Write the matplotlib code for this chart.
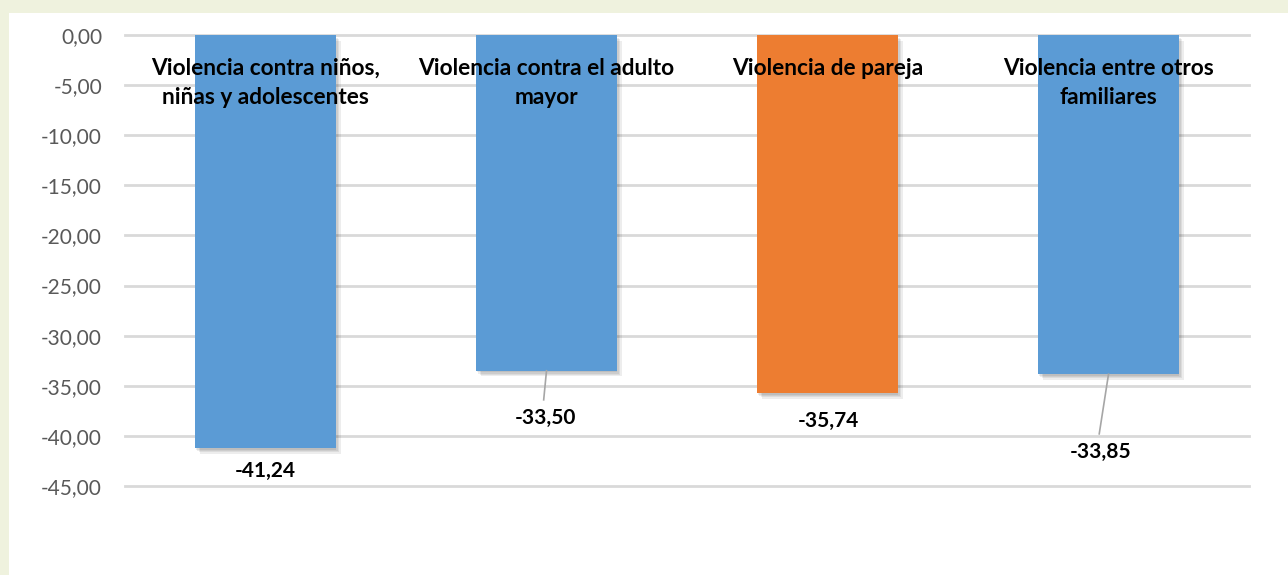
import matplotlib.pyplot as plt
import matplotlib.patheffects as pe
import numpy as np

# data
categories = ["Violencia contra niños,\nniñas y adolescentes",
              "Violencia contra el adulto\nmayor",
              "Violencia de pareja",
              "Violencia entre otros\nfamiliares"]
values = [-41.24, -33.50, -35.74, -33.85]
colors = ["#5B9BD5", "#5B9BD5", "#ED7D31", "#5B9BD5"]
yticks = np.arange(0, -50, -5)

# where the value labels sit (data units) and whether they get a leader line
label_pos = [(0.00, -43.5), (0.996, -38.2), (2.004, -38.5), (2.973, -41.6)]
leader = [False, True, False, True]

plt.rcParams["font.family"] = ["Lato", "DejaVu Sans"]

fig = plt.figure(figsize=(12.88, 5.75), dpi=100, facecolor="#EFF2DE")
# white panel
fig.patches.append(plt.Rectangle((9 / 1288, 0), 1, 1 - 13 / 575, transform=fig.transFigure,
                                 facecolor="white", edgecolor="none", zorder=-10))

ax = fig.add_axes([125 / 1288, 1 - 486 / 575, 1124 / 1288, 451 / 575])
ax.set_facecolor("none")

x = np.arange(len(values))
bars = ax.bar(x, values, width=0.5, color=colors, zorder=3)
# soft shadow: a few faint offset copies
shadow = [pe.SimplePatchShadow(offset=(o, -o - 0.5), shadow_rgbFace="black", alpha=0.07)
          for o in (0.5, 1.5, 2.5, 3.5)]
for b in bars:
    b.set_path_effects(shadow + [pe.Normal()])

ax.set_xlim(-0.5, len(values) - 0.5)
ax.set_ylim(-45, 0)
ax.set_yticks(yticks)
ax.set_yticklabels([f"{v:.2f}".replace(".", ",") for v in yticks])
ax.yaxis.grid(True, color="#D9D9D9", linewidth=2)
for gl in ax.get_ygridlines():
    gl.set_clip_on(False)
ax.set_axisbelow(True)
ax.set_xticks([])
ax.tick_params(axis="y", length=0, pad=16.5, labelsize=15, labelcolor="#595959")
for s in ax.spines.values():
    s.set_visible(False)

# category names inside the plot, near the top
for i, name in enumerate(categories):
    ax.text(i, -2.3, name, ha="center", va="top", fontsize=16.3, fontweight="bold",
            color="black", linespacing=1.45, zorder=5)

# value labels
for i, (v, (lx, ly), ld) in enumerate(zip(values, label_pos, leader)):
    ax.text(lx, ly, f"{v:.2f}".replace(".", ","), ha="center", va="center",
            fontsize=15, fontweight="bold", color="black", zorder=5)
    if ld:
        ax.plot([i, lx - 0.006], [v, ly + 1.8], color="#A6A6A6", linewidth=1.2, zorder=4)

fig.savefig("out.png", dpi=100, facecolor=fig.get_facecolor())
